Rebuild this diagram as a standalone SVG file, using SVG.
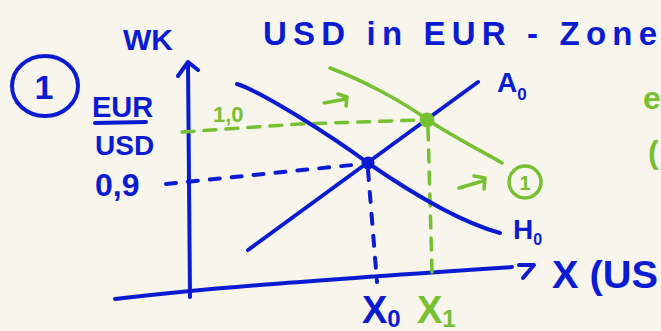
<svg xmlns="http://www.w3.org/2000/svg" width="661" height="331" viewBox="0 0 661 331">
<style>
.bg{fill:#f7f5ec}
.b{stroke:#0b1bd2;fill:none;stroke-width:4;stroke-linecap:round;stroke-linejoin:round}
.g{stroke:#76c032;fill:none;stroke-width:3.5;stroke-linecap:round;stroke-linejoin:round}
.bd{stroke-dasharray:10 12}
.gd{stroke-dasharray:12 10}
.tb{fill:#0b1bd2;font-family:"Liberation Sans",Arial,sans-serif;font-weight:bold}
.tg{fill:#76c032;font-family:"Liberation Sans",Arial,sans-serif;font-weight:bold}
</style>
<rect class="bg" x="0" y="0" width="661" height="331"/>

<g id="title">
<text class="tb" x="263" y="45" font-size="33" textLength="394" lengthAdjust="spacing">USD in EUR - Zone</text>
</g>

<g id="marker-1">
<ellipse class="b" cx="45" cy="86" rx="33" ry="30"/>
<text class="tb" x="44" y="99" font-size="34" text-anchor="middle">1</text>
</g>

<g id="y-label">
<text class="tb" x="123" y="50" font-size="30">WK</text>
<text class="tb" x="92" y="117" font-size="29">EUR</text>
<path class="b" d="M95,123 L146,122"/>
<text class="tb" x="95" y="155" font-size="28">USD</text>
<text class="tb" x="95" y="196" font-size="32">0,9</text>
</g>

<g id="axes">
<path class="b" d="M190,297 L188,64 M178,76 L188,62 L198,70"/>
<path class="b" d="M115,299 C200,289 300,281 512,267 M519,265 L534,265 L523,278"/>
<text class="tb" x="552" y="288" font-size="38" textLength="106" lengthAdjust="spacingAndGlyphs">X (US</text>
</g>

<g id="connectors">
<path class="b bd" d="M166,184 L362,164"/>
<path class="b bd" d="M368,170 L377,282"/>
<path class="g gd" d="M182,132 L300,124 L420,120"/>
<path class="g gd" d="M428,128 L432,272"/>
</g>

<g id="supply-A0">
<path class="b" d="M248,250 L478,82"/>
<text class="tb" x="497" y="92" font-size="28">A<tspan font-size="17" dy="8">0</tspan></text>
</g>

<g id="demand-H0">
<path class="b" d="M237,84 C262,92 330,135 368,163 C410,192 460,222 500,233"/>
<text class="tb" x="513" y="239" font-size="28">H<tspan font-size="16" dy="6">0</tspan></text>
</g>

<g id="demand-H1">
<path class="g" d="M330,68 C362,80 400,100 428,120 C455,138 480,150 502,163"/>
<path class="g" d="M324,103 L346,99 M338,94 L347,97 L346,106"/>
<path class="g" d="M459,188 L483,181 M474,176 L485,178 L484,189"/>
<circle class="g" cx="525" cy="182" r="16"/>
<text class="tg" x="525" y="190" font-size="20" text-anchor="middle">1</text>
</g>

<g id="equilibrium-0">
<circle cx="368" cy="163" r="6.5" fill="#0b1bd2"/>
<text class="tb" x="362" y="323" font-size="38">X<tspan font-size="24" dy="4">0</tspan></text>
</g>

<g id="equilibrium-1">
<circle cx="427" cy="120" r="7.5" fill="#76c032"/>
<text class="tg" x="213" y="122" font-size="22">1,0</text>
<text class="tg" x="417" y="323" font-size="38">X<tspan font-size="24" dy="4">1</tspan></text>
</g>

<g id="notes">
<text class="tg" x="643" y="109" font-size="32">e</text>
<text class="tg" x="648" y="163" font-size="32">(</text>
</g>
</svg>
